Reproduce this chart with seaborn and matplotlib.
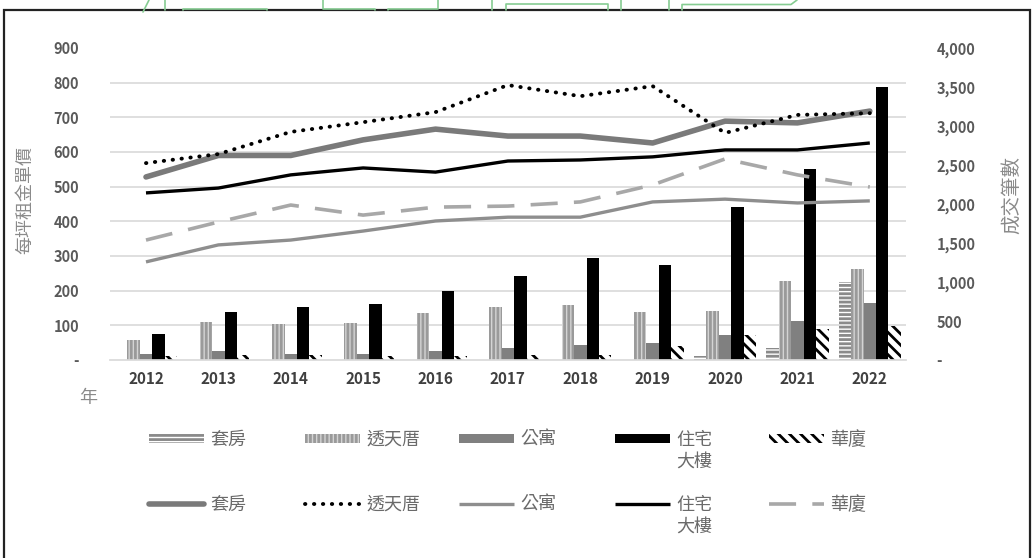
import matplotlib
matplotlib.use("Agg")
import matplotlib.pyplot as plt
import matplotlib.patches as mpatches
import matplotlib.lines as mlines
import seaborn as sns
import pandas as pd

# ---------------- data ----------------
years = ["2012", "2013", "2014", "2015", "2016", "2017", "2018", "2019", "2020", "2021", "2022"]
types = ["套房", "透天厝", "公寓", "住宅大樓", "華廈"]
legend_first = ["套房", "透天厝", "公寓", "住宅", "華廈"]
legend_second = ["", "", "", "大樓", ""]

# transaction counts (bars, right axis)
cnt_suite = [0, 0, 0, 0, 0, 0, 0, 0, 50, 150, 1000]
cnt_house = [256, 487, 462, 474, 603, 680, 705, 615, 628, 1013, 1167]
cnt_apt = [77, 115, 77, 77, 115, 154, 192, 218, 320, 500, 730]
cnt_tower = [333, 615, 680, 718, 885, 1077, 1308, 1218, 1962, 2449, 3500]
cnt_mansion = [50, 60, 60, 50, 50, 60, 60, 180, 320, 397, 436]

# rent per ping (lines, left axis)
rent_suite = [528, 590, 590, 635, 666, 646, 646, 626, 689, 684, 718]
rent_house = [568, 594, 658, 686, 715, 793, 761, 790, 655, 707, 712]
rent_apt = [283, 332, 346, 372, 401, 412, 412, 456, 464, 453, 459]
rent_tower = [482, 496, 534, 554, 542, 574, 577, 586, 606, 606, 626]
rent_mansion = [346, 398, 447, 418, 441, 444, 456, 505, 580, 534, 499]

left_ticks = [0, 100, 200, 300, 400, 500, 600, 700, 800, 900]
left_labels = ["-", "100", "200", "300", "400", "500", "600", "700", "800", "900"]
right_ticks = [0, 500, 1000, 1500, 2000, 2500, 3000, 3500, 4000]
right_labels = ["-", "500", "1,000", "1,500", "2,000", "2,500", "3,000", "3,500", "4,000"]

# ---------------- style ----------------
sns.set_theme(style="white")
plt.rcParams["font.family"] = ["Noto Sans CJK TC", "DejaVu Sans"]
plt.rcParams["hatch.linewidth"] = 2.0

counts = [cnt_suite, cnt_house, cnt_apt, cnt_tower, cnt_mansion]
rents = [rent_suite, rent_house, rent_apt, rent_tower, rent_mansion]

bar_df = pd.DataFrame([(y, t, c[i]) for t, c in zip(types, counts) for i, y in enumerate(years)],
                      columns=["year", "type", "count"])
line_df = pd.DataFrame([(y, t, r[i]) for t, r in zip(types, rents) for i, y in enumerate(years)],
                       columns=["year", "type", "rent"])

bar_face = {"套房": "white", "透天厝": "#d4d4d4", "公寓": "#808080", "住宅大樓": "black", "華廈": "white"}
bar_hatch = {"套房": "----", "透天厝": "||||", "公寓": None, "住宅大樓": None, "華廈": "\\\\\\"}
bar_hedge = {"套房": "#8a8a8a", "透天厝": "#9a9a9a", "公寓": "#808080", "住宅大樓": "black", "華廈": "black"}

line_color = {"套房": "#7a7a7a", "透天厝": "black", "公寓": "#8e8e8e", "住宅大樓": "black", "華廈": "#a8a8a8"}
line_width = {"套房": 4.0, "透天厝": 2.8, "公寓": 2.4, "住宅大樓": 2.4, "華廈": 2.6}
line_dash = {"套房": None, "透天厝": (0.1, 2.2), "公寓": None, "住宅大樓": None, "華廈": (7.5, 4.5)}


def style_line(ln, t):
    ln.set_linewidth(line_width[t])
    ln.set_color(line_color[t])
    ln.set_solid_capstyle("round" if t == "套房" else "butt")
    if line_dash[t] is not None:
        ln.set_dashes(line_dash[t])
        ln.set_dash_capstyle("round" if t == "透天厝" else "butt")


W, H = 1036, 558
fig = plt.figure(figsize=(W / 100, H / 100), dpi=100)
ax = fig.add_axes([109.8 / W, 1 - 360 / H, (906 - 109.8) / W, (360 - 48) / H])
ax2 = ax.twinx()

# bars on right axis
sns.barplot(data=bar_df, x="year", y="count", hue="type", hue_order=types, order=years,
            palette=bar_face, width=0.86, errorbar=None, legend=False, ax=ax2, saturation=1)
for cont, t in zip(ax2.containers, types):
    for b in cont:
        b.set_facecolor(bar_face[t])
        if bar_hatch[t]:
            b.set_hatch(bar_hatch[t])
        b.set_edgecolor(bar_hedge[t])
        b.set_linewidth(0)

# lines on left axis
sns.pointplot(data=line_df, x="year", y="rent", hue="type", hue_order=types, order=years,
              palette=line_color, errorbar=None, legend=False, ax=ax, markers="o")
for ln, t in zip(ax.lines, types):
    ln.set_marker("")
    style_line(ln, t)

ax.set_zorder(ax2.get_zorder() + 1)
ax.patch.set_visible(False)

ax.set_ylim(0, 900)
ax2.set_ylim(0, 4000)
ax.set_xlim(-0.5, len(years) - 0.5)

# gridlines at left-axis values, drawn under bars
ax2.set_yticks([v * 4000 / 900 for v in left_ticks], minor=True)
ax2.grid(which="minor", axis="y", color="#d9d9d9", linewidth=1.2)
ax2.grid(which="major", visible=False)
ax.grid(False)
ax2.set_axisbelow(True)

ax.set_yticks(left_ticks)
ax.set_yticklabels(left_labels)
ax2.set_yticks(right_ticks)
ax2.set_yticklabels(right_labels)
ax.tick_params(axis="y", length=0, pad=22, labelsize=10.5, labelcolor="#5a5a5a")
ax2.tick_params(axis="y", which="both", length=0, pad=22, labelsize=10.5, labelcolor="#5a5a5a")
ax.tick_params(axis="x", length=0, pad=8, labelsize=11, labelcolor="#404040")
for lab in ax.get_xticklabels():
    lab.set_fontweight("bold")
for lab in ax.get_yticklabels() + ax2.get_yticklabels():
    lab.set_fontweight("bold")

for a in (ax, ax2):
    for s in a.spines.values():
        s.set_visible(False)
    a.set_xlabel("")
    a.set_ylabel("")
ax2.spines["bottom"].set_visible(True)
ax2.spines["bottom"].set_color("#d9d9d9")

fig.text(25 / W, 1 - 200 / H, "每坪租金單價", rotation=90, ha="center", va="center",
         fontsize=13, color="#8a8a8a")
fig.text(1012 / W, 1 - 195 / H, "成交筆數", rotation=90, ha="center", va="center",
         fontsize=14, color="#8a8a8a")
fig.text(88 / W, 1 - 398 / H, "年", ha="center", va="center", fontsize=13, color="#8a8a8a")

# legends (one entry each, placed on a grid)
leg_fs = 13
fs_px = leg_fs * 100 / 72
hl_px, pad_px = 55, 6
col_x = [149, 305, 459, 615, 769]
row_y = [440, 505]
for i, t in enumerate(types):
    ph = mpatches.Patch(facecolor=bar_face[t], hatch=bar_hatch[t], edgecolor=bar_hedge[t], linewidth=0)
    lh = mlines.Line2D([], [])
    style_line(lh, t)
    for h, ry in zip([ph, lh], row_y):
        fig.legend(handles=[h], labels=[legend_first[i]], loc="center left",
                   bbox_to_anchor=(col_x[i] / W, 1 - ry / H), frameon=False,
                   fontsize=leg_fs, handlelength=hl_px / fs_px, handleheight=0.45,
                   handletextpad=pad_px / fs_px, borderpad=0, borderaxespad=0,
                   labelcolor="#6a6a6a")
        if legend_second[i]:
            fig.text((col_x[i] + hl_px + pad_px) / W, 1 - (ry + 23) / H, legend_second[i],
                     ha="left", va="center", fontsize=leg_fs, color="#6a6a6a")

# outer frame
fig.patches.append(mpatches.Rectangle((4 / W, -0.01), (1030 - 4) / W, 1 - 10 / H + 0.01,
                                      transform=fig.transFigure, fill=False,
                                      edgecolor="#222222", linewidth=1.6))

# faint green page decorations above the frame
deco = [
    ([143, 149], [12, 0]), ([165, 165], [0, 10]),
    ([183, 183, 267, 267], [10, 9, 9, 10]),
    ([323, 323, 375, 375], [0, 9, 9, 10]),
    ([388, 388, 438, 438], [10, 9, 9, 0]),
    ([492, 492], [0, 10]),
    ([506, 506, 608, 608], [10, 3.5, 3.5, 10]),
    ([621, 621], [0, 10]), ([669, 669], [0, 10]),
    ([682, 682, 791, 797], [10, 4.5, 4.5, 0]),
]
for xs, ys in deco:
    fig.add_artist(mlines.Line2D([x / W for x in xs], [1 - y / H for y in ys],
                                 transform=fig.transFigure, color="#86cc92", linewidth=1.2))

fig.savefig("out.png", dpi=100)
